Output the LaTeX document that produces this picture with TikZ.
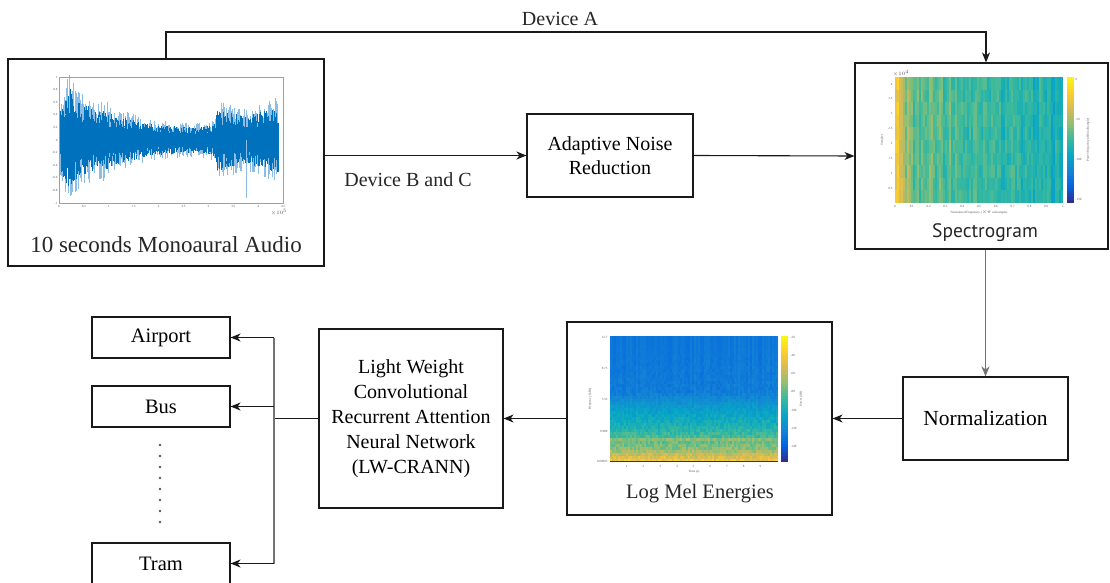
\documentclass[tikz,border=0pt]{standalone}
\usepackage{fontspec}
\setmainfont{Liberation Serif}
\newfontfamily\captionsans{PT Sans}
\usetikzlibrary{arrows.meta}

\definecolor{wave}{HTML}{0072BD}
\definecolor{wavelt}{HTML}{8CBDE4}
% parula colour map, 9 stops
\definecolor{par0}{HTML}{352A87}
\definecolor{par1}{HTML}{0363E1}
\definecolor{par2}{HTML}{1485D4}
\definecolor{par3}{HTML}{06A7C6}
\definecolor{par4}{HTML}{38B99E}
\definecolor{par5}{HTML}{92BF73}
\definecolor{par6}{HTML}{D9BA56}
\definecolor{par7}{HTML}{FCCE2E}
\definecolor{par8}{HTML}{F9FB0E}
\definecolor{axisgray}{HTML}{A0A0A0}
\definecolor{ticktext}{HTML}{555555}

% sets colour "pc" to the parula value of #1 (0..100)
\newcommand\parcol[1]{%
  \pgfmathsetmacro\pcv{max(0,min(99.9,#1))}%
  \pgfmathtruncatemacro\pcs{floor(\pcv/12.5)}%
  \pgfmathtruncatemacro\pcw{(\pcv-12.5*\pcs)*8}%
  \pgfmathtruncatemacro\pct{\pcs+1}%
  \colorlet{pc}{par\pct!\pcw!par\pcs}%
}

\tikzset{
  box/.style={draw=black!90, line width=1.1pt, inner sep=0pt, align=center, font=\rmfamily},
  conn/.style={draw=black!90, line width=1.1pt},
  arr/.style={conn, -{Stealth[length=10pt,width=8pt,inset=3pt]}},
  softarr/.style={draw=black!55, line width=1.8pt, -{Stealth[length=10pt,width=8pt,inset=3pt]}},
  softconn/.style={draw=black!55, line width=1.8pt},
  lbl/.style={inner sep=0pt, text=black!85},
  tk/.style={font=\fontsize{3.2}{3.6}\selectfont, text=ticktext, inner sep=0.4pt},
  dot/.style={circle, fill=black!65, inner sep=0pt, minimum size=2.6pt},
}

\begin{document}
\begin{tikzpicture}[x=1pt, y=-1pt,
  declare function={lmb(\t)= \t<0.45 ? 20+\t*4.4 : (\t<0.55 ? 22+(\t-0.45)*100 :
     (\t<0.7 ? 32+(\t-0.55)*66.7 : (\t<0.8 ? 42+(\t-0.7)*100 :
     (\t<0.9 ? 52+(\t-0.8)*100 : 62+(\t-0.9)*230))));}]
\useasboundingbox (0,0) rectangle (1110,583);
\fill[white] (0,0) rectangle (1110,583);
\pgfmathsetseed{12}

% ---------- boxes ----------
\node[box, minimum width=316pt, minimum height=207pt] (audio) at (166,162.5) {};
\node[box, minimum width=253pt, minimum height=186pt] (spec) at (981.5,156) {};
\node[box, minimum width=166pt, minimum height=83pt,
      font=\rmfamily\fontsize{20}{24}\selectfont] (anr) at (610,155.5) {Adaptive Noise\\Reduction};
\node[box, minimum width=165pt, minimum height=83pt,
      font=\rmfamily\fontsize{21.5}{25}\selectfont] (norm) at (985.5,418.5) {Normalization};
\node[box, minimum width=265pt, minimum height=193pt] (logmel) at (699.5,418.5) {};
\node[box, minimum width=184pt, minimum height=179pt,
      font=\rmfamily\fontsize{20}{25}\selectfont] (lw) at (411,418.5)
      {Light Weight\\Convolutional\\Recurrent Attention\\Neural Network\\(LW-CRANN)};
\node[box, minimum width=138pt, minimum height=41pt,
      font=\rmfamily\fontsize{20.5}{24}\selectfont] (airport) at (161,337.5) {Airport};
\node[box, minimum width=138pt, minimum height=41pt,
      font=\rmfamily\fontsize{20.5}{24}\selectfont] (bus) at (161,406.5) {Bus};
\node[box, minimum width=138pt, minimum height=41pt,
      font=\rmfamily\fontsize{20.5}{24}\selectfont] (tram) at (161,563.5) {Tram};

% ---------- waveform plot ----------
\foreach \xb/\ab [remember=\xb as \xa (initially 60), remember=\ab as \aa (initially 30)] in
  {66/46, 70/55, 74/44, 80/38, 88/36, 96/30, 104/34, 110/28, 118/25, 128/23,
   140/19, 155/16, 170/15, 185/14, 200/14, 210/15, 214/18, 217/34, 224/30,
   232/29, 240/26, 248/25, 256/28, 264/31, 272/33, 278/35} {
  \pgfmathtruncatemacro\nn{(\xb-\xa)*2}
  \foreach \k in {1,...,\nn} {
    \pgfmathsetmacro\xx{\xa+\k/2}
    \pgfmathsetmacro\am{\aa+(\ab-\aa)*\k/\nn}
    \draw[wavelt, line width=0.5pt] (\xx,{140-1.25*\am*rnd}) -- (\xx,{140+1.25*\am*rnd});
    \draw[wave, line width=0.7pt] (\xx,{140-\am*(0.45+0.5*rnd)}) -- (\xx,{140+\am*(0.45+0.5*rnd)});
  }
}
\draw[wavelt, line width=0.6pt] (246,140) -- (246,198);
\draw[axisgray, line width=0.3pt] (59,77) rectangle (283,203);
\foreach \v [count=\i from 0] in {1,0.8,0.6,0.4,0.2,0,-0.2,-0.4,-0.6,-0.8,-1}
  \node[tk, anchor=east] (wy\i) at (58,{77+12.6*\i}) {\v};
\foreach \v [count=\i from 0] in {0,0.5,1,1.5,2,2.5,3,3.5,4,4.5}
  \node[tk, anchor=north] (wx\i) at ({59+24.9*\i},205) {\v};
\node[tk] (wexp) at (279,212) {$\times10^{5}$};
\node[lbl, font=\fontsize{23}{26}\selectfont] (audiolbl) at (166,245) {10 seconds Monoaural Audio};

% ---------- spectrogram plot ----------
\foreach \c in {0,...,83} {
  \pgfmathsetmacro\cx{895+2*\c}
  \pgfmathsetmacro\base{\cx<899 ? 84 : (\cx<903 ? 74 : (\cx<911 ? 64 :
      (\cx<960 ? 56-(\cx-911)*0.06 : 53-(\cx-960)*0.1)))}
  \pgfmathsetmacro\cn{(\cx<903 ? 2 : 6)*rand}
  \foreach \q in {0,...,9} {
    \parcol{\base+\cn+5*rand}
    \fill[pc] (\cx,{77+12.6*\q}) rectangle ++(2.05,12.7);
  }
}
\foreach \k in {0,...,41} {
  \parcol{100-100*(\k+0.5)/42}
  \fill[pc] (1067,{77+3*\k}) rectangle ++(7,3.05);
}
\foreach \v [count=\i from 0] in {4,3.5,3,2.5,2,1.5,1,0.5}
  \node[tk, anchor=east] (sy\i) at (893,{84+14.9*\i}) {\v};
\foreach \v [count=\i from 0] in {0,0.1,0.2,0.3,0.4,0.5,0.6,0.7,0.8,0.9,1}
  \node[tk, anchor=north] (sx\i) at ({895+16.8*\i},205) {\v};
\node[tk] (sexp) at (901,73) {$\times10^{4}$};
\node[tk] (sxl) at (979,212) {Normalized Frequency ($\times\pi$ rad/sample)};
\node[tk, rotate=90] (syl) at (882,140) {Samples};
\foreach \v [count=\i from 0] in {0,-50,-100,-150}
  \node[tk, anchor=west] (sc\i) at (1075,{79+40*\i}) {\v};
\node[tk, rotate=90] (scl) at (1088,140) {Power/frequency (dB/rad/sample)};
\node[lbl, font=\captionsans\fontsize{19.5}{23}\selectfont] (speclbl) at (985,233) {Spectrogram};

% ---------- log mel plot ----------
\foreach \c in {0,...,83} {
  \pgfmathsetmacro\cx{610+2*\c}
  \pgfmathsetmacro\cn{3*rand}
  \foreach \q in {0,...,41} {
    \pgfmathsetmacro\rr{(\q+0.5)/42}
    \pgfmathsetmacro\vv{lmb(\rr)+\cn*(1-\rr)+7*\rr*rand+(abs(\q-34)<0.5 ? 7 : 0)}
    \parcol{\vv}
    \fill[pc] (\cx,{336+3*\q}) rectangle ++(2.05,3.05);
  }
}
\fill[par0] (610,460.5) rectangle (778,462);
\foreach \k in {0,...,41} {
  \parcol{100-100*(\k+0.5)/42}
  \fill[pc] (781,{336+3*\k}) rectangle ++(7,3.05);
}
\foreach \v/\yy [count=\i from 0] in {21.7/337, 8.73/368, 3.33/399, 0.988/431, 0.00903/461}
  \node[tk, anchor=east] (my\i) at (608,\yy) {\v};
\foreach \v in {1,...,9}
  \node[tk, anchor=north] (mx\v) at ({626.7+16.7*(\v-1)},465) {\v};
\node[tk] (mxl) at (694,472) {Time (s)};
\node[tk, rotate=90] (myl) at (590,399) {Frequency (kHz)};
\foreach \v [count=\i from 0] in {-20,-40,-60,-80,-100,-120,-140}
  \node[tk, anchor=west] (mc\i) at (790,{337+18.3*\i}) {\v};
\node[tk, rotate=90] (mcl) at (801,399) {Power (dB)};
\node[lbl, font=\fontsize{20.5}{24}\selectfont] (mellbl) at (700,494) {Log Mel Energies};

% ---------- connectors ----------
\coordinate (topA) at (986,32);
\draw[arr] (audio.north) |- (topA) -- (topA |- spec.north);
\node[lbl, font=\fontsize{20}{24}\selectfont] (devA) at (560,19) {Device A};

\draw[arr] (anr.west -| audio.east) -- (anr.west);
\node[lbl, font=\fontsize{20}{24}\selectfont] (devBC) at (408,180) {Device B and C};
\draw[arr] (anr.east) -- (spec.west);

\draw[softarr] (norm.north |- spec.south) -- (norm.north);
\draw[arr] (norm.west) -- (logmel.east);
\draw[arr] (logmel.west) -- (lw.east);

\coordinate (jn) at (274,418.5);
\draw[conn] (lw.west) -- (jn);
\draw[softconn] (jn |- airport.east) -- (jn |- tram.east);
\draw[arr] (jn |- airport.east) -- (airport.east);
\draw[arr] (jn |- bus.east) -- (bus.east);
\draw[arr] (jn |- tram.east) -- (tram.east);

% ellipsis between the class boxes
\foreach \i in {0,...,7}
  \node[dot] (d\i) at (160,{445+11*\i}) {};
\end{tikzpicture}
\end{document}
